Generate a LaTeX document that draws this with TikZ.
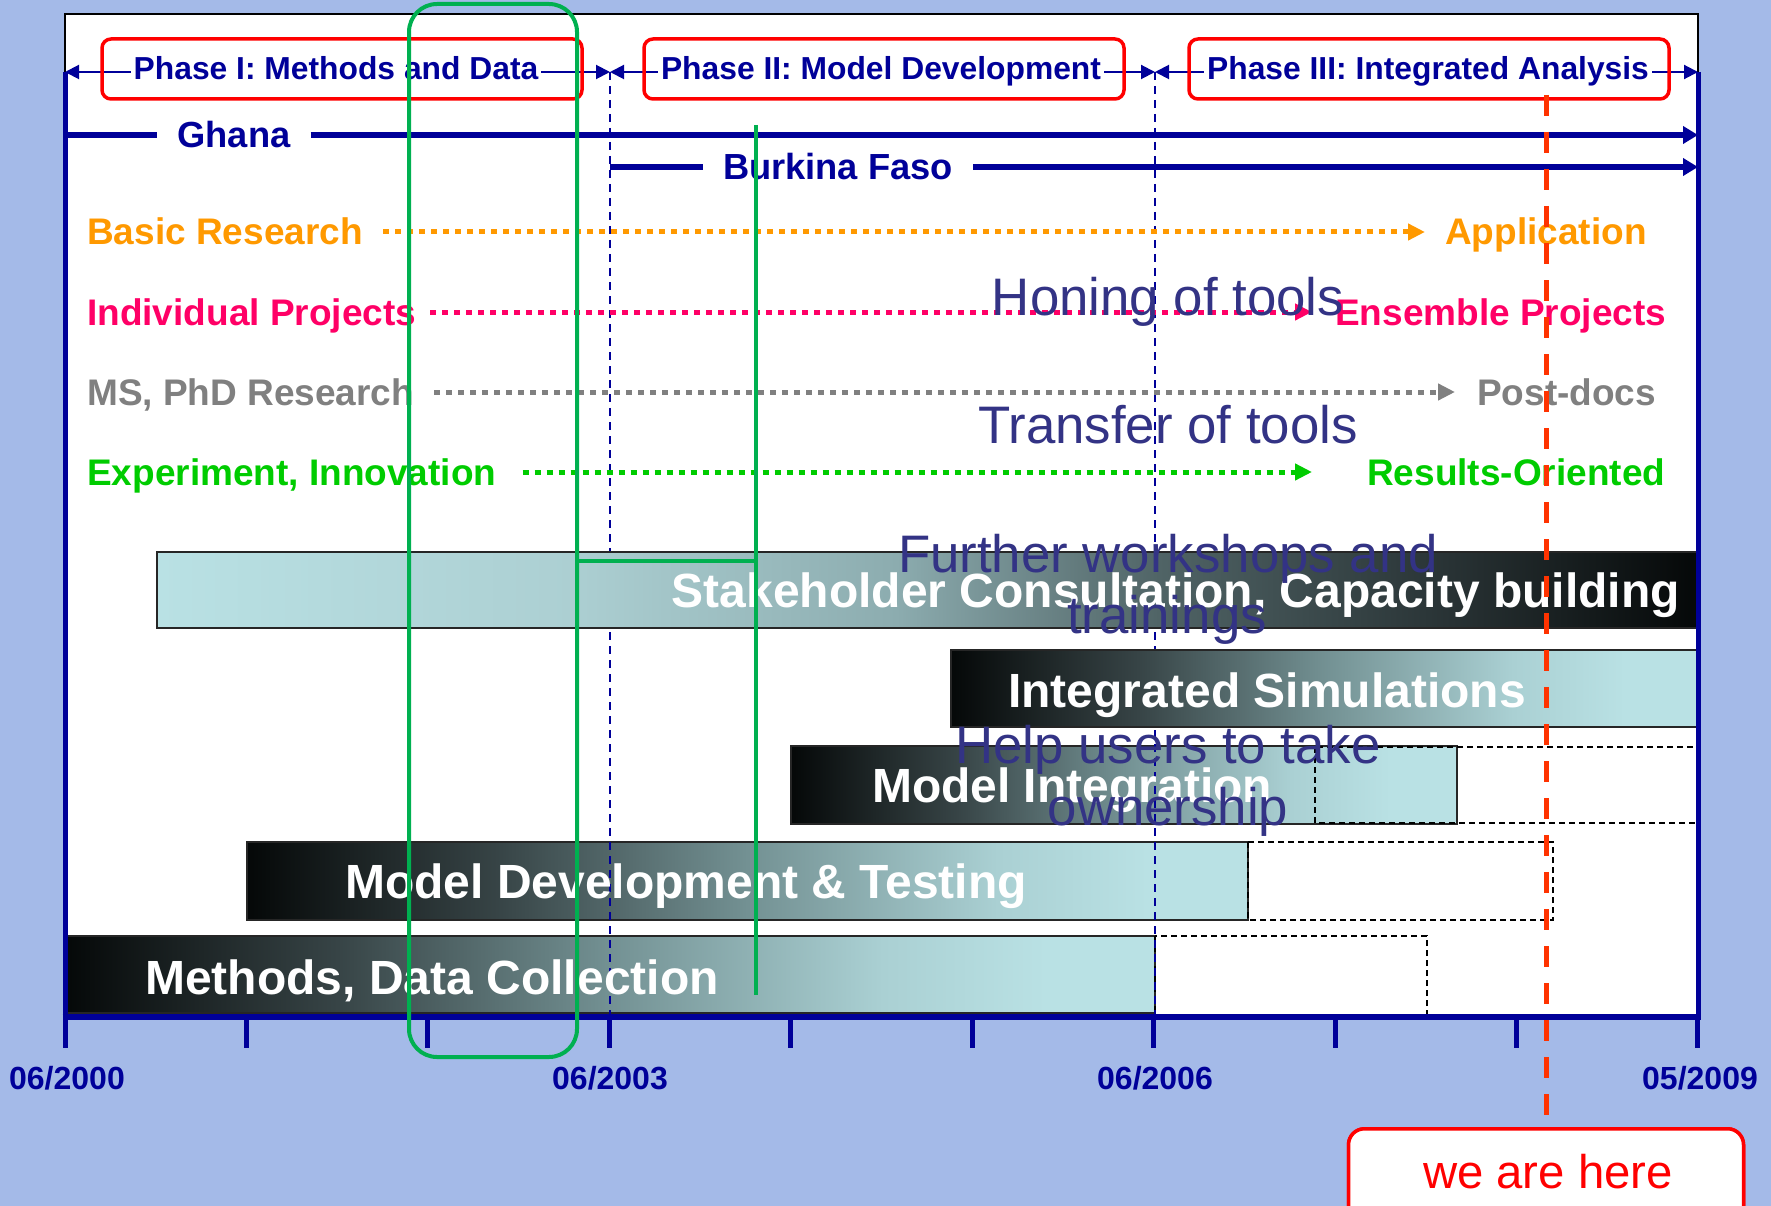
\documentclass[tikz,border=0pt]{standalone}
\usepackage{fontspec}
\setmainfont{Liberation Sans}
\usetikzlibrary{arrows.meta}
\definecolor{bgblue}{RGB}{164,186,232}
\definecolor{navy}{RGB}{0,0,153}
\definecolor{phred}{RGB}{255,0,0}
\definecolor{orangeC}{RGB}{255,153,0}
\definecolor{pinkC}{RGB}{255,0,102}
\definecolor{grayC}{RGB}{128,128,128}
\definecolor{greenC}{RGB}{0,204,0}
\definecolor{callC}{RGB}{51,51,133}
\definecolor{greenF}{RGB}{0,176,80}
\definecolor{redD}{RGB}{255,51,0}
\definecolor{barL}{RGB}{185,225,228}
\definecolor{barD}{RGB}{5,8,8}
\definecolor{sA}{RGB}{172,207,210}
\definecolor{sB}{RGB}{140,172,175}
\definecolor{sC}{RGB}{80,100,102}
\definecolor{sD}{RGB}{40,50,52}
\definecolor{dA}{RGB}{55,68,70}
\definecolor{dB}{RGB}{115,145,147}
\definecolor{dC}{RGB}{170,208,211}
\pgfdeclarehorizontalshading{lightdark}{100bp}{color(0bp)=(barL); color(25bp)=(barL); color(38.5bp)=(sA); color(49bp)=(sB); color(57.5bp)=(sC); color(67bp)=(sD); color(75bp)=(barD); color(100bp)=(barD)}
\pgfdeclarehorizontalshading{darklight}{100bp}{color(0bp)=(barD); color(25bp)=(barD); color(37.5bp)=(dA); color(50bp)=(dB); color(62.5bp)=(dC); color(70bp)=(barL); color(100bp)=(barL)}
\newcommand\fphase{\fontsize{31.8}{38}\selectfont\bfseries}
\newcommand\fcountry{\fontsize{36.3}{43}\selectfont\bfseries}
\newcommand\frow{\fontsize{37}{44}\selectfont\bfseries}
\newcommand\fbar{\fontsize{48}{58}\selectfont\bfseries}
\newcommand\faxis{\fontsize{32}{38}\selectfont\bfseries}
\newcommand\fcall{\fontsize{52.8}{63}\selectfont}
\newcommand\fhere{\fontsize{47.3}{56}\selectfont}
\begin{document}
\begin{tikzpicture}[x=1pt,y=-1pt,
  phasebox/.style={draw=phred, line width=3.5pt, rounded corners=9pt, minimum width=480pt, minimum height=60pt, inner sep=0pt},
  phasetext/.style={anchor=base, fill=white, inner xsep=3pt, inner ysep=1pt, text=navy, font=\fphase},
  phasearrow/.style={navy, line width=2pt, {Triangle[length=14pt,width=14pt]}-{Triangle[length=14pt,width=14pt]}},
  countryline/.style={navy, line width=6pt},
  countrytext/.style={text=navy, font=\fcountry, text height=26pt, text depth=0pt, inner xsep=20pt, inner ysep=0pt},
  rowlabel/.style={anchor=west, font=\frow, text height=26pt, text depth=0pt, inner sep=0pt},
  dotline/.style={line width=5pt, dash pattern=on 6pt off 6pt, -{Triangle[length=17pt,width=16pt]}},
  barframe/.style={draw=black!85, line width=1.5pt},
  dashbox/.style={draw=black, line width=1.5pt, dash pattern=on 6pt off 4pt},
  navydash/.style={navy, line width=1.5pt, dash pattern=on 8pt off 6pt},
  bartext/.style={anchor=base, text=white, font=\fbar, inner sep=0pt},
  axislabel/.style={anchor=base, text=navy, font=\faxis, inner sep=0pt},
  calltext/.style={anchor=base, text=callC, font=\fcall, inner sep=0pt},
  herebox/.style={draw=phred, line width=3.5pt, rounded corners=16pt, fill=white, minimum width=395pt, minimum height=110pt, anchor=north, inner sep=0pt},
  greenmark/.style={draw=greenF, line width=4pt}
]
\useasboundingbox (0,0) rectangle (1771,1206);
\fill[bgblue] (0,0) rectangle (1771,1206);
\draw[black, line width=2pt, fill=white] (65,14) rectangle (1698,1017);

% lower bars
\shadedraw[barframe, shading=darklight] (65,936) rectangle (1155,1013);
\draw[dashbox] (1155,936) rectangle (1427,1015);
\shadedraw[barframe, shading=darklight] (247,842) rectangle (1248,920);
\draw[dashbox] (1248,842) rectangle (1553,920);
\shadedraw[barframe, shading=darklight] (791,746) rectangle (1457,824);
\draw[dashbox] (1315,747) rectangle (1698,823);

% phase separators
\coordinate (p0) at (65,72);
\coordinate (p1) at (610,72);
\coordinate (p2) at (1155,72);
\coordinate (p3) at (1698,72);
\coordinate (a1) at (610,1017);
\coordinate (a2) at (1155,1017);
\draw[navydash] (p1) -- (a1);
\draw[navydash] (p2) -- (a2);

% upper bars
\shadedraw[barframe, shading=lightdark] (157,552) rectangle (1698,628);
\shadedraw[barframe, shading=darklight] (951,650) rectangle (1700,727);

% axes
\draw[navy, line width=5pt] (p0) -- (65,1017);
\draw[navy, line width=5pt] (p3) -- (1698,1017);
\draw[navy, line width=6pt] (62.5,1017) -- (1700.5,1017);
\foreach \k in {0,...,9} \draw[navy, line width=5pt] ({65+\k*181.44},1017) -- ({65+\k*181.44},1048);
\node[axislabel] (t0) at (67,1089) {06/2000};
\node[axislabel] (t1) at (610,1089) {06/2003};
\node[axislabel] (t2) at (1155,1089) {06/2006};
\node[axislabel] (t3) at (1700,1089) {05/2009};

% phases
\draw[phasearrow] (p0) -- (p1);
\draw[phasearrow] (p1) -- (p2);
\draw[phasearrow] (p2) -- (p3);
\node[phasebox] (ph1box) at (342,69) {};
\node[phasebox] (ph2box) at (884,69) {};
\node[phasebox] (ph3box) at (1429,69) {};
\node[phasetext] (ph1) at (336,80) {Phase I: Methods and Data};
\node[phasetext] (ph2) at (881,80) {Phase II: Model Development};
\node[phasetext] (ph3) at (1428,80) {Phase III: Integrated Analysis};

% countries
\coordinate (gL) at (65,135);
\coordinate (gR) at (1698,135);
\coordinate (bL) at (610,167);
\coordinate (bR) at (1698,167);
\node[countrytext] (ghana) at (234,135) {Ghana};
\node[countrytext] (burkina) at (838,167) {Burkina Faso};
\draw[countryline] (gL) -- (ghana);
\draw[countryline, -{Triangle[length=15pt,width=17pt]}] (ghana) -- (gR);
\draw[countryline] (bL) -- (burkina);
\draw[countryline, -{Triangle[length=15pt,width=17pt]}] (burkina) -- (bR);

% research rows
\node[rowlabel, text=orangeC] (basic) at (87,232) {Basic Research};
\node[rowlabel, text=orangeC] (appl) at (1445,232) {Application};
\node[rowlabel, text=pinkC] (indiv) at (87,312) {Individual Projects};
\node[rowlabel, text=pinkC] (ens) at (1335,312) {Ensemble Projects};
\node[rowlabel, text=grayC] (msphd) at (87,392) {MS, PhD Research};
\node[rowlabel, text=grayC] (post) at (1477,392) {Post-docs};
\node[rowlabel, text=greenC] (expe) at (87,472) {Experiment, Innovation};
\node[rowlabel, text=greenC] (res) at (1367,472) {Results-Oriented};
\draw[dotline, orangeC, shorten <=20pt, shorten >=20pt] (basic) -- (appl);
\draw[dotline, pinkC, shorten <=14pt, shorten >=23pt] (indiv) -- (ens);
\draw[dotline, grayC, shorten <=20pt, shorten >=22pt] (msphd) -- (post);
\draw[dotline, greenC, shorten <=26pt, shorten >=55pt] (expe) -- (res);

% bar texts
\node[bartext, anchor=base east] (stake) at (1680,607) {Stakeholder Consultation, Capacity building};
\node[bartext] (intsim) at (1267,707) {Integrated Simulations};
\node[bartext] (modint) at (1072,802) {Model Integration};
\node[bartext] (moddev) at (686,898) {Model Development \& Testing};
\node[bartext] (methods) at (432,994) {Methods, Data Collection};

% callouts
\node[calltext] (honing) at (1168,315) {Honing of tools};
\node[calltext] (transfer) at (1168,443) {Transfer of tools};
\node[calltext] (further) at (1168,572) {Further workshops and};
\node[calltext] (trainings) at (1167,633) {trainings};
\node[calltext] (help) at (1168,763) {Help users to take};
\node[calltext] (owner) at (1168,825) {ownership};

% we are here
\coordinate (rtop) at (1546,95);
\node[herebox] (here) at (1546,1127) {};
\draw[redD, line width=5pt, dash pattern=on 21pt off 16pt] (rtop) -- (here.north);
\node[herebox] at (1546,1127) {};
\node[anchor=base, text=phred, font=\fhere, inner sep=0pt] (heretext) at (1548,1188) {we are here};

% green highlights
\coordinate (gv1) at (756,125);
\coordinate (gv2) at (756,995);
\coordinate (gh1) at (577,561);
\coordinate (gh2) at (756,561);
\draw[greenmark, rounded corners=28pt] (409,4) rectangle (577,1057);
\draw[greenmark] (gv1) -- (gv2);
\draw[greenmark] (gh1) -- (gh2);
\end{tikzpicture}
\end{document}
